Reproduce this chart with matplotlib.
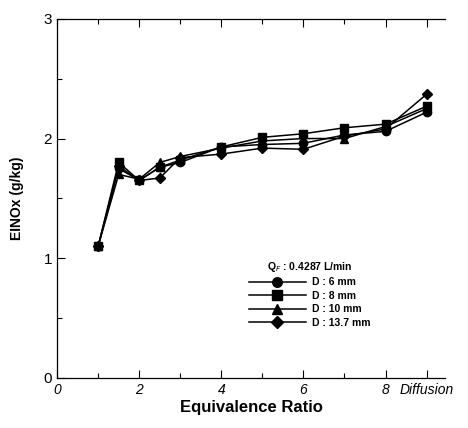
import matplotlib
matplotlib.use("Agg")
import matplotlib.pyplot as plt
from matplotlib.ticker import MultipleLocator

plt.rcParams['font.family'] = ['Liberation Sans', 'DejaVu Sans']

x = [1, 1.5, 2, 2.5, 3, 4, 5, 6, 7, 8, 9]
d6 = [1.10, 1.75, 1.65, 1.76, 1.80, 1.93, 1.95, 1.96, 2.03, 2.06, 2.22]
d8 = [1.10, 1.80, 1.65, 1.76, 1.82, 1.93, 2.01, 2.04, 2.09, 2.12, 2.27]
d10 = [1.10, 1.70, 1.66, 1.80, 1.85, 1.92, 1.98, 2.00, 2.00, 2.10, 2.25]
d137 = [1.10, 1.77, 1.65, 1.67, 1.84, 1.87, 1.92, 1.91, 2.02, 2.08, 2.37]
labels = ["D : 6 mm", "D : 8 mm", "D : 10 mm", "D : 13.7 mm"]
markers = ["o", "s", "^", "D"]
msizes = [6, 6, 6, 5]
xtick_vals = [0, 2, 4, 6, 8, 9]
xtick_labels = ["0", "2", "4", "6", "8", "Diffusion"]

fig = plt.figure(figsize=(4.68, 4.28), dpi=100)
ax = fig.add_axes([0.122, 0.117, 0.829, 0.839])

for s, lab, m, ms in zip([d6, d8, d10, d137], labels, markers, msizes):
    ax.plot(x, s, color='black', marker=m, markersize=ms, linewidth=1.1, label=lab)

ax.set_xlim(0, 9.45)
ax.set_ylim(0, 3)
ax.set_xticks(xtick_vals)
ax.set_xticklabels(xtick_labels, fontstyle='italic', fontsize=10)
ax.xaxis.set_minor_locator(MultipleLocator(1))
ax.yaxis.set_major_locator(MultipleLocator(1))
ax.yaxis.set_minor_locator(MultipleLocator(0.5))
ax.tick_params(axis='both', which='both', direction='in', top=True, right=False,
               labelsize=10, width=0.8)
ax.tick_params(which='major', length=6)
ax.tick_params(which='minor', length=3.5)
ax.tick_params(axis='y', labelsize=11)
ax.spines['right'].set_visible(False)
for sp in ['left', 'bottom', 'top']:
    ax.spines[sp].set_linewidth(0.9)

ax.set_xlabel("Equivalence Ratio", fontsize=12, fontweight='bold', labelpad=2)
ax.set_ylabel("EINOx (g/kg)", fontsize=10, fontweight='bold', labelpad=14)

leg = ax.legend(loc='upper left', bbox_to_anchor=(0.475, 0.35), frameon=False,
                title=r"Q$_F$ : 0.4287 L/min",
                handlelength=5.5, handletextpad=0.6, labelspacing=0.35,
                borderpad=0.2, markerscale=1.15,
                prop={'weight': 'bold', 'size': 7.5})
leg.get_title().set_fontweight('bold')
leg.get_title().set_fontsize(7.5)

fig.savefig("out.png", dpi=100)
